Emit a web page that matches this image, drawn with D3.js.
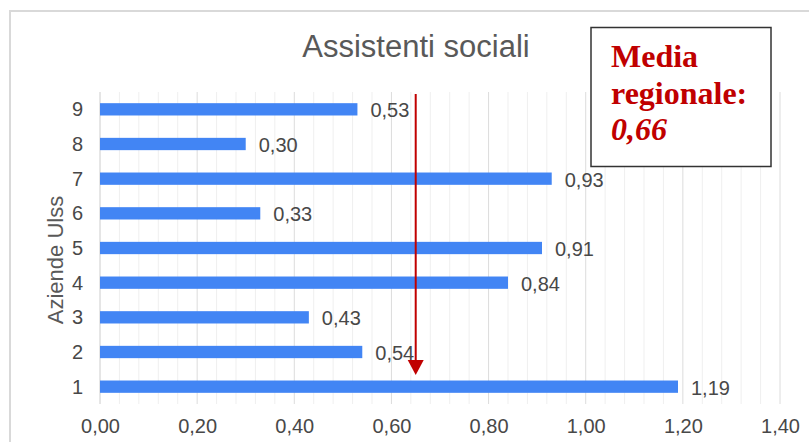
<!DOCTYPE html>
<html>
<head>
<meta charset="utf-8">
<script src="https://cdn.jsdelivr.net/npm/d3@7"></script>
<style>
  html, body { margin: 0; padding: 0; background: #ffffff; }
  svg { display: block; }
</style>
</head>
<body>
<svg id="chart" width="809" height="442"></svg>
<script>
// ---- data ----
const categories = ["9", "8", "7", "6", "5", "4", "3", "2", "1"];
const values = [0.53, 0.30, 0.93, 0.33, 0.91, 0.84, 0.43, 0.54, 1.19];
const xTicks = [0, 0.2, 0.4, 0.6, 0.8, 1.0, 1.2, 1.4];
const chartTitle = "Assistenti sociali";
const yTitle = "Aziende Ulss";
const mediaLines = ["Media", "regionale:", "0,66"];
const mediaPosition = 0.65; // where the arrow is drawn in the picture

// ---- layout ----
const svg = d3.select("#chart");
const plot = { left: 100, right: 780, top: 92, bottom: 404 };
const fmt = v => d3.format(".2f")(v).replace(".", ",");

const x = d3.scaleLinear().domain([0, 1.4]).range([plot.left, plot.right]);
const y = d3.scaleBand().domain(categories).range([plot.top, plot.bottom])
  .paddingInner(0.645).paddingOuter(0.3225);

// outer frame
svg.append("path")
  .attr("d", `M10,442 L10,11 L809,11`)
  .attr("fill", "none").attr("stroke", "#d9d9d9").attr("stroke-width", 2);

// minor gridlines
const minor = d3.range(0, 1.4001, 0.04).filter(v => Math.abs(v / 0.2 - Math.round(v / 0.2)) > 1e-6);
svg.append("g").selectAll("line").data(minor).join("line")
  .attr("x1", d => x(d)).attr("x2", d => x(d))
  .attr("y1", plot.top).attr("y2", plot.bottom)
  .attr("stroke", "#efefef").attr("stroke-width", 1);

// major gridlines
svg.append("g").selectAll("line").data(xTicks).join("line")
  .attr("x1", d => x(d)).attr("x2", d => x(d))
  .attr("y1", plot.top).attr("y2", plot.bottom)
  .attr("stroke", d => d === 0 ? "#cccccc" : "#dcdcdc").attr("stroke-width", 1);

// x axis labels
const xAxis = d3.axisBottom(x).tickValues(xTicks).tickFormat(fmt).tickSize(0).tickPadding(0);
const xg = svg.append("g").attr("transform", `translate(0,${plot.bottom})`).call(xAxis);
xg.select(".domain").remove();
xg.selectAll("text")
  .attr("y", 29).attr("dy", 0)
  .attr("font-family", "Liberation Sans, Arial, sans-serif")
  .attr("font-size", 20).attr("fill", "#484848");

// y axis labels
const yAxis = d3.axisLeft(y).tickSize(0).tickPadding(0);
const yg = svg.append("g").attr("transform", `translate(83,0)`).call(yAxis);
yg.select(".domain").remove();
yg.selectAll("text")
  .attr("font-family", "Liberation Sans, Arial, sans-serif")
  .attr("font-size", 20).attr("fill", "#484848").attr("dy", "0.35em");

// bars
const rows = categories.map((c, i) => ({ c, v: values[i] }));
svg.append("g").selectAll("rect").data(rows).join("rect")
  .attr("x", x(0)).attr("y", d => y(d.c))
  .attr("width", d => x(d.v) - x(0)).attr("height", y.bandwidth())
  .attr("fill", "#4285f4");

// value labels
svg.append("g").selectAll("text").data(rows).join("text")
  .attr("x", d => x(d.v) + 13)
  .attr("y", d => y(d.c) + y.bandwidth() / 2 + 1)
  .attr("dy", "0.35em")
  .attr("font-family", "Liberation Sans, Arial, sans-serif")
  .attr("font-size", 20).attr("fill", "#484848")
  .text(d => fmt(d.v));

// title
svg.append("text")
  .attr("x", 416).attr("y", 57).attr("text-anchor", "middle")
  .attr("font-family", "Liberation Sans, Arial, sans-serif")
  .attr("font-size", 31).attr("fill", "#595959")
  .text(chartTitle);

// y title
svg.append("text")
  .attr("transform", `translate(63,260) rotate(-90)`)
  .attr("text-anchor", "middle")
  .attr("font-family", "Liberation Sans, Arial, sans-serif")
  .attr("font-size", 22).attr("fill", "#595959")
  .text(yTitle);

// red arrow
const ax = x(mediaPosition);
svg.append("line")
  .attr("x1", ax).attr("x2", ax).attr("y1", 94).attr("y2", 362)
  .attr("stroke", "#c00000").attr("stroke-width", 2);
svg.append("path")
  .attr("d", `M${ax - 8},360 L${ax + 8},360 L${ax},375 Z`)
  .attr("fill", "#c00000");

// media box
svg.append("rect")
  .attr("x", 591).attr("y", 27.5).attr("width", 180).attr("height", 139)
  .attr("fill", "#ffffff").attr("stroke", "#333333").attr("stroke-width", 1.5);
const baselines = [67, 104, 140];
svg.append("g").selectAll("text").data(mediaLines).join("text")
  .attr("x", 611).attr("y", (d, i) => baselines[i])
  .attr("font-family", "Liberation Serif, Times New Roman, serif")
  .attr("font-weight", "bold")
  .attr("font-style", (d, i) => i === 2 ? "italic" : "normal")
  .attr("font-size", 32).attr("fill", "#c00000")
  .text(d => d);
</script>
</body>
</html>
